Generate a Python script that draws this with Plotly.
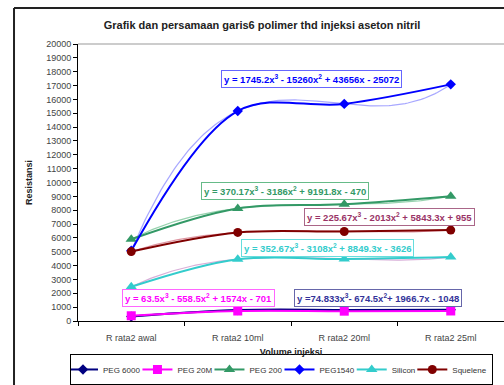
import numpy as np
import plotly.graph_objects as go

categories = ["R rata2 awal", "R rata2 10ml", "R rata2 20ml", "R rata2 25ml"]
x_pos = [1, 2, 3, 4]

peg6000 = [319, 786, 802, 816]
peg20m = [378, 721, 709, 723]
peg200 = [5906, 8131, 8426, 9012]
peg1540 = [5069, 15162, 15676, 17085]
silicon = [2468, 4462, 4472, 4614]
squelene = [5011, 6395, 6461, 6563]

series_names = ["PEG 6000", "PEG 20M", "PEG 200", "PEG1540", "Silicon", "Squelene"]
series_vals = [peg6000, peg20m, peg200, peg1540, silicon, squelene]
colors = ["#000080", "#FF00FF", "#339966", "#0000FF", "#33CCCC", "#800000"]
trend_colors = ["rgba(60,60,200,0.6)", "rgba(160,60,200,0.6)", "rgba(80,180,120,0.6)",
                "rgba(110,110,255,0.6)", "rgba(190,120,190,0.6)", "rgba(200,80,100,0.6)"]
symbols = ["diamond", "square", "triangle-up", "diamond", "triangle-up", "circle"]
msizes = [8, 9, 10, 8, 10, 9]

equations = [
    "y =74.833x<sup>3</sup>- 674.5x<sup>2</sup>+ 1966.7x - 1048",
    "y = 63.5x<sup>3</sup> - 558.5x<sup>2</sup> + 1574x - 701",
    "y = 370.17x<sup>3</sup> - 3186x<sup>2</sup> + 9191.8x - 470",
    "y = 1745.2x<sup>3</sup> - 15260x<sup>2</sup> + 43656x - 25072",
    "y = 352.67x<sup>3</sup> - 3108x<sup>2</sup> + 8849.3x - 3626",
    "y = 225.67x<sup>3</sup> - 2013x<sup>2</sup> + 5843.3x + 955",
]
eq_text_colors = ["#333399", "#FF00FF", "#339966", "#0000FF", "#33CCCC", "#993366"]
eq_border_colors = ["#6666AA", "#FF66FF", "#66BB88", "#6666FF", "#66DDDD", "#AA6688"]
eq_pos = [(0.704, 0.083), (0.284, 0.083), (0.485, 0.471), (0.548, 0.874), (0.585, 0.264), (0.732, 0.374)]

FONT = "Liberation Sans, Arial, sans-serif"

fig = go.Figure()

xd = np.linspace(1, 4, 120)
for i, vals in enumerate(series_vals):
    coef = np.polyfit(x_pos, vals, 3)
    fig.add_trace(go.Scatter(x=xd, y=np.polyval(coef, xd), mode="lines",
                             line=dict(color=trend_colors[i], width=1.2),
                             showlegend=False, hoverinfo="skip"))

for i, vals in enumerate(series_vals):
    fig.add_trace(go.Scatter(x=x_pos, y=vals, mode="lines+markers", name=series_names[i],
                             line=dict(color=colors[i], width=2, shape="spline", smoothing=1.0),
                             marker=dict(symbol=symbols[i], size=msizes[i], color=colors[i])))

for i in range(6):
    fig.add_annotation(x=eq_pos[i][0], y=eq_pos[i][1], xref="paper", yref="paper",
                       xanchor="center", yanchor="middle",
                       text="<b>" + equations[i] + "</b>", showarrow=False,
                       font=dict(family=FONT, size=9.5, color=eq_text_colors[i]),
                       bgcolor="white", bordercolor=eq_border_colors[i], borderwidth=1, borderpad=2)

fig.update_layout(
    width=504, height=385,
    margin=dict(l=78, r=0, t=44, b=64),
    paper_bgcolor="white", plot_bgcolor="white",
    font=dict(family=FONT, size=9, color="#333333"),
    title=dict(text="<b>Grafik dan persamaan garis6 polimer thd injeksi aseton nitril</b>",
               x=0.432, xref="paper", xanchor="center", y=0.935, yanchor="middle",
               font=dict(family=FONT, size=11, color="#222222")),
    xaxis=dict(range=[0.5, 4.5], tickvals=x_pos, ticktext=categories, ticks="",
               ticklabelstandoff=8,
               showgrid=False, zeroline=False, showline=True, linecolor="black", linewidth=1,
               tickfont=dict(size=9, color="#444444"),
               minor=dict(tick0=0.5, dtick=1, ticks="outside", ticklen=4, tickcolor="black", showgrid=False),
               title=dict(text="<b>Volume injeksi</b>", font=dict(size=9, color="#222222"), standoff=6)),
    yaxis=dict(range=[0, 20000], dtick=1000, tickformat="d", ticks="outside", ticklen=4, tickcolor="black",
               showgrid=False, zeroline=False, showline=True, linecolor="black", linewidth=1,
               tickfont=dict(size=9, color="#444444"),
               title=dict(text="<b>Resistansi</b>", font=dict(size=9, color="#222222"), standoff=12)),
    legend=dict(orientation="h", x=-0.0188, xanchor="left", y=-0.175, yanchor="middle",
                bordercolor="black", borderwidth=1, font=dict(size=8, color="#333333"),
                itemwidth=30, indentation=-8, tracegroupgap=0),
    showlegend=True,
)

fig.add_shape(type="line", xref="paper", yref="paper", x0=0, x1=1, y0=1, y1=1,
              line=dict(color="#999999", width=1))
fig.add_shape(type="line", xref="paper", yref="paper", x0=-0.1502, x1=-0.1502, y0=-0.3, y1=1.13,
              line=dict(color="#222222", width=2))
fig.add_shape(type="line", xref="paper", yref="paper", x0=-0.1502, x1=1.02, y0=1.13, y1=1.13,
              line=dict(color="#222222", width=2))

fig.write_html("out.html")
